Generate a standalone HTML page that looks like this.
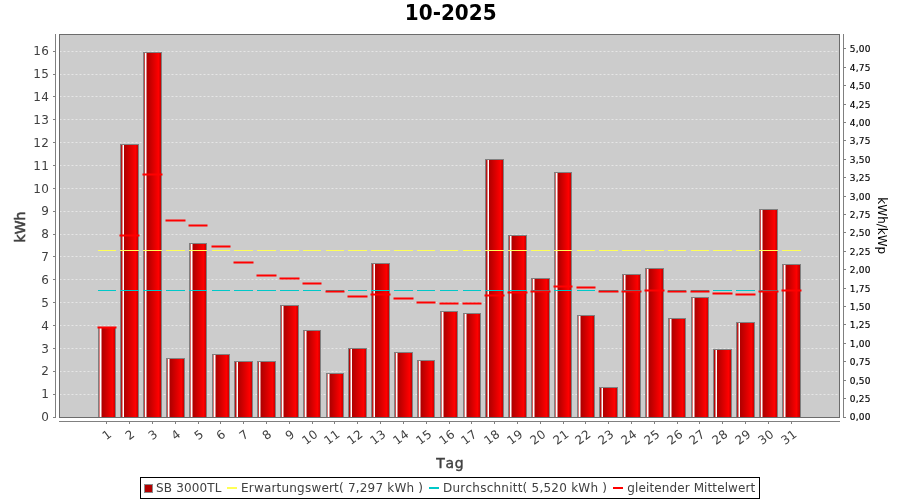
<!DOCTYPE html>
<html lang="de"><head><meta charset="utf-8"><title>10-2025</title>
<style>html,body{margin:0;padding:0;background:#fff;}body{width:900px;height:500px;overflow:hidden;}svg{display:block;}text{font-family:"DejaVu Sans", "Liberation Sans", sans-serif;font-kerning:none;}</style>
</head><body>
<svg width="900" height="500" viewBox="0 0 900 500">
<defs><linearGradient id="g0" gradientUnits="userSpaceOnUse" x1="98.50" x2="116.11" y1="0" y2="0"><stop offset="0" stop-color="#b20000"/><stop offset="0.1136" stop-color="#ffffff"/><stop offset="0.2271" stop-color="#b20000"/><stop offset="0.7949" stop-color="#fe0000"/><stop offset="1" stop-color="#b20000"/></linearGradient><linearGradient id="g1" gradientUnits="userSpaceOnUse" x1="121.31" x2="138.93" y1="0" y2="0"><stop offset="0" stop-color="#b20000"/><stop offset="0.1242" stop-color="#ffffff"/><stop offset="0.1810" stop-color="#b20000"/><stop offset="0.8055" stop-color="#fe0000"/><stop offset="1" stop-color="#b20000"/></linearGradient><linearGradient id="g2" gradientUnits="userSpaceOnUse" x1="144.13" x2="161.74" y1="0" y2="0"><stop offset="0" stop-color="#b20000"/><stop offset="0.0780" stop-color="#ffffff"/><stop offset="0.1916" stop-color="#b20000"/><stop offset="0.8161" stop-color="#fe0000"/><stop offset="1" stop-color="#b20000"/></linearGradient><linearGradient id="g3" gradientUnits="userSpaceOnUse" x1="166.94" x2="184.55" y1="0" y2="0"><stop offset="0" stop-color="#b20000"/><stop offset="0.0886" stop-color="#ffffff"/><stop offset="0.2022" stop-color="#b20000"/><stop offset="0.8267" stop-color="#fe0000"/><stop offset="1" stop-color="#b20000"/></linearGradient><linearGradient id="g4" gradientUnits="userSpaceOnUse" x1="189.75" x2="207.36" y1="0" y2="0"><stop offset="0" stop-color="#b20000"/><stop offset="0.0993" stop-color="#ffffff"/><stop offset="0.2128" stop-color="#b20000"/><stop offset="0.7806" stop-color="#fe0000"/><stop offset="1" stop-color="#b20000"/></linearGradient><linearGradient id="g5" gradientUnits="userSpaceOnUse" x1="212.56" x2="230.18" y1="0" y2="0"><stop offset="0" stop-color="#b20000"/><stop offset="0.1099" stop-color="#ffffff"/><stop offset="0.2234" stop-color="#b20000"/><stop offset="0.7912" stop-color="#fe0000"/><stop offset="1" stop-color="#b20000"/></linearGradient><linearGradient id="g6" gradientUnits="userSpaceOnUse" x1="235.38" x2="252.99" y1="0" y2="0"><stop offset="0" stop-color="#b20000"/><stop offset="0.1205" stop-color="#ffffff"/><stop offset="0.1773" stop-color="#b20000"/><stop offset="0.8018" stop-color="#fe0000"/><stop offset="1" stop-color="#b20000"/></linearGradient><linearGradient id="g7" gradientUnits="userSpaceOnUse" x1="258.19" x2="275.80" y1="0" y2="0"><stop offset="0" stop-color="#b20000"/><stop offset="0.0744" stop-color="#ffffff"/><stop offset="0.1879" stop-color="#b20000"/><stop offset="0.8125" stop-color="#fe0000"/><stop offset="1" stop-color="#b20000"/></linearGradient><linearGradient id="g8" gradientUnits="userSpaceOnUse" x1="281.00" x2="298.62" y1="0" y2="0"><stop offset="0" stop-color="#b20000"/><stop offset="0.0850" stop-color="#ffffff"/><stop offset="0.1985" stop-color="#b20000"/><stop offset="0.8231" stop-color="#fe0000"/><stop offset="1" stop-color="#b20000"/></linearGradient><linearGradient id="g9" gradientUnits="userSpaceOnUse" x1="303.82" x2="321.43" y1="0" y2="0"><stop offset="0" stop-color="#b20000"/><stop offset="0.0956" stop-color="#ffffff"/><stop offset="0.2092" stop-color="#b20000"/><stop offset="0.7769" stop-color="#fe0000"/><stop offset="1" stop-color="#b20000"/></linearGradient><linearGradient id="g10" gradientUnits="userSpaceOnUse" x1="326.63" x2="344.24" y1="0" y2="0"><stop offset="0" stop-color="#b20000"/><stop offset="0.1062" stop-color="#ffffff"/><stop offset="0.2198" stop-color="#b20000"/><stop offset="0.7875" stop-color="#fe0000"/><stop offset="1" stop-color="#b20000"/></linearGradient><linearGradient id="g11" gradientUnits="userSpaceOnUse" x1="349.44" x2="367.05" y1="0" y2="0"><stop offset="0" stop-color="#b20000"/><stop offset="0.1168" stop-color="#ffffff"/><stop offset="0.1736" stop-color="#b20000"/><stop offset="0.7982" stop-color="#fe0000"/><stop offset="1" stop-color="#b20000"/></linearGradient><linearGradient id="g12" gradientUnits="userSpaceOnUse" x1="372.25" x2="389.87" y1="0" y2="0"><stop offset="0" stop-color="#b20000"/><stop offset="0.1275" stop-color="#ffffff"/><stop offset="0.1842" stop-color="#b20000"/><stop offset="0.8088" stop-color="#fe0000"/><stop offset="1" stop-color="#b20000"/></linearGradient><linearGradient id="g13" gradientUnits="userSpaceOnUse" x1="395.07" x2="412.68" y1="0" y2="0"><stop offset="0" stop-color="#b20000"/><stop offset="0.0813" stop-color="#ffffff"/><stop offset="0.1949" stop-color="#b20000"/><stop offset="0.8194" stop-color="#fe0000"/><stop offset="1" stop-color="#b20000"/></linearGradient><linearGradient id="g14" gradientUnits="userSpaceOnUse" x1="417.88" x2="435.49" y1="0" y2="0"><stop offset="0" stop-color="#b20000"/><stop offset="0.0919" stop-color="#ffffff"/><stop offset="0.2055" stop-color="#b20000"/><stop offset="0.7733" stop-color="#fe0000"/><stop offset="1" stop-color="#b20000"/></linearGradient><linearGradient id="g15" gradientUnits="userSpaceOnUse" x1="440.69" x2="458.31" y1="0" y2="0"><stop offset="0" stop-color="#b20000"/><stop offset="0.1026" stop-color="#ffffff"/><stop offset="0.2161" stop-color="#b20000"/><stop offset="0.7839" stop-color="#fe0000"/><stop offset="1" stop-color="#b20000"/></linearGradient><linearGradient id="g16" gradientUnits="userSpaceOnUse" x1="463.51" x2="481.12" y1="0" y2="0"><stop offset="0" stop-color="#b20000"/><stop offset="0.1132" stop-color="#ffffff"/><stop offset="0.2267" stop-color="#b20000"/><stop offset="0.7945" stop-color="#fe0000"/><stop offset="1" stop-color="#b20000"/></linearGradient><linearGradient id="g17" gradientUnits="userSpaceOnUse" x1="486.32" x2="503.93" y1="0" y2="0"><stop offset="0" stop-color="#b20000"/><stop offset="0.1238" stop-color="#ffffff"/><stop offset="0.1806" stop-color="#b20000"/><stop offset="0.8051" stop-color="#fe0000"/><stop offset="1" stop-color="#b20000"/></linearGradient><linearGradient id="g18" gradientUnits="userSpaceOnUse" x1="509.13" x2="526.75" y1="0" y2="0"><stop offset="0" stop-color="#b20000"/><stop offset="0.0777" stop-color="#ffffff"/><stop offset="0.1912" stop-color="#b20000"/><stop offset="0.8158" stop-color="#fe0000"/><stop offset="1" stop-color="#b20000"/></linearGradient><linearGradient id="g19" gradientUnits="userSpaceOnUse" x1="531.95" x2="549.56" y1="0" y2="0"><stop offset="0" stop-color="#b20000"/><stop offset="0.0883" stop-color="#ffffff"/><stop offset="0.2018" stop-color="#b20000"/><stop offset="0.8264" stop-color="#fe0000"/><stop offset="1" stop-color="#b20000"/></linearGradient><linearGradient id="g20" gradientUnits="userSpaceOnUse" x1="554.76" x2="572.37" y1="0" y2="0"><stop offset="0" stop-color="#b20000"/><stop offset="0.0989" stop-color="#ffffff"/><stop offset="0.2125" stop-color="#b20000"/><stop offset="0.7802" stop-color="#fe0000"/><stop offset="1" stop-color="#b20000"/></linearGradient><linearGradient id="g21" gradientUnits="userSpaceOnUse" x1="577.57" x2="595.18" y1="0" y2="0"><stop offset="0" stop-color="#b20000"/><stop offset="0.1095" stop-color="#ffffff"/><stop offset="0.2231" stop-color="#b20000"/><stop offset="0.7908" stop-color="#fe0000"/><stop offset="1" stop-color="#b20000"/></linearGradient><linearGradient id="g22" gradientUnits="userSpaceOnUse" x1="600.38" x2="618.00" y1="0" y2="0"><stop offset="0" stop-color="#b20000"/><stop offset="0.1201" stop-color="#ffffff"/><stop offset="0.1769" stop-color="#b20000"/><stop offset="0.8015" stop-color="#fe0000"/><stop offset="1" stop-color="#b20000"/></linearGradient><linearGradient id="g23" gradientUnits="userSpaceOnUse" x1="623.20" x2="640.81" y1="0" y2="0"><stop offset="0" stop-color="#b20000"/><stop offset="0.0740" stop-color="#ffffff"/><stop offset="0.1875" stop-color="#b20000"/><stop offset="0.8121" stop-color="#fe0000"/><stop offset="1" stop-color="#b20000"/></linearGradient><linearGradient id="g24" gradientUnits="userSpaceOnUse" x1="646.01" x2="663.62" y1="0" y2="0"><stop offset="0" stop-color="#b20000"/><stop offset="0.0846" stop-color="#ffffff"/><stop offset="0.1982" stop-color="#b20000"/><stop offset="0.8227" stop-color="#fe0000"/><stop offset="1" stop-color="#b20000"/></linearGradient><linearGradient id="g25" gradientUnits="userSpaceOnUse" x1="668.82" x2="686.44" y1="0" y2="0"><stop offset="0" stop-color="#b20000"/><stop offset="0.0952" stop-color="#ffffff"/><stop offset="0.2088" stop-color="#b20000"/><stop offset="0.7766" stop-color="#fe0000"/><stop offset="1" stop-color="#b20000"/></linearGradient><linearGradient id="g26" gradientUnits="userSpaceOnUse" x1="691.64" x2="709.25" y1="0" y2="0"><stop offset="0" stop-color="#b20000"/><stop offset="0.1059" stop-color="#ffffff"/><stop offset="0.2194" stop-color="#b20000"/><stop offset="0.7872" stop-color="#fe0000"/><stop offset="1" stop-color="#b20000"/></linearGradient><linearGradient id="g27" gradientUnits="userSpaceOnUse" x1="714.45" x2="732.06" y1="0" y2="0"><stop offset="0" stop-color="#b20000"/><stop offset="0.1165" stop-color="#ffffff"/><stop offset="0.1733" stop-color="#b20000"/><stop offset="0.7978" stop-color="#fe0000"/><stop offset="1" stop-color="#b20000"/></linearGradient><linearGradient id="g28" gradientUnits="userSpaceOnUse" x1="737.26" x2="754.87" y1="0" y2="0"><stop offset="0" stop-color="#b20000"/><stop offset="0.1271" stop-color="#ffffff"/><stop offset="0.1839" stop-color="#b20000"/><stop offset="0.8084" stop-color="#fe0000"/><stop offset="1" stop-color="#b20000"/></linearGradient><linearGradient id="g29" gradientUnits="userSpaceOnUse" x1="760.07" x2="777.69" y1="0" y2="0"><stop offset="0" stop-color="#b20000"/><stop offset="0.0810" stop-color="#ffffff"/><stop offset="0.1945" stop-color="#b20000"/><stop offset="0.8190" stop-color="#fe0000"/><stop offset="1" stop-color="#b20000"/></linearGradient><linearGradient id="g30" gradientUnits="userSpaceOnUse" x1="782.89" x2="800.50" y1="0" y2="0"><stop offset="0" stop-color="#b20000"/><stop offset="0.0916" stop-color="#ffffff"/><stop offset="0.2051" stop-color="#b20000"/><stop offset="0.7729" stop-color="#fe0000"/><stop offset="1" stop-color="#b20000"/></linearGradient></defs>
<rect x="0" y="0" width="900" height="500" fill="#ffffff"/>
<text transform="translate(450.7 20) scale(1 1.04)" x="0" y="0" font-size="20" font-weight="bold" text-anchor="middle" fill="#000000">10-2025</text>
<rect x="59" y="34" width="781" height="384" fill="#cccccc"/>
<g stroke="#ffffff" stroke-opacity="0.5" stroke-width="1" stroke-dasharray="2 2">
<line x1="59.5" x2="839.5" y1="51.5" y2="51.5"/>
<line x1="59.5" x2="839.5" y1="74.5" y2="74.5"/>
<line x1="59.5" x2="839.5" y1="96.5" y2="96.5"/>
<line x1="59.5" x2="839.5" y1="119.5" y2="119.5"/>
<line x1="59.5" x2="839.5" y1="142.5" y2="142.5"/>
<line x1="59.5" x2="839.5" y1="165.5" y2="165.5"/>
<line x1="59.5" x2="839.5" y1="188.5" y2="188.5"/>
<line x1="59.5" x2="839.5" y1="211.5" y2="211.5"/>
<line x1="59.5" x2="839.5" y1="234.5" y2="234.5"/>
<line x1="59.5" x2="839.5" y1="256.5" y2="256.5"/>
<line x1="59.5" x2="839.5" y1="279.5" y2="279.5"/>
<line x1="59.5" x2="839.5" y1="302.5" y2="302.5"/>
<line x1="59.5" x2="839.5" y1="325.5" y2="325.5"/>
<line x1="59.5" x2="839.5" y1="348.5" y2="348.5"/>
<line x1="59.5" x2="839.5" y1="371.5" y2="371.5"/>
<line x1="59.5" x2="839.5" y1="394.5" y2="394.5"/>
</g>
<g stroke="#808080" stroke-width="1">
<rect x="98.5" y="327.5" width="17" height="90" fill="url(#g0)"/>
<rect x="120.5" y="144.5" width="18" height="273" fill="url(#g1)"/>
<rect x="143.5" y="52.5" width="18" height="365" fill="url(#g2)"/>
<rect x="166.5" y="358.5" width="18" height="59" fill="url(#g3)"/>
<rect x="189.5" y="243.5" width="17" height="174" fill="url(#g4)"/>
<rect x="212.5" y="354.5" width="17" height="63" fill="url(#g5)"/>
<rect x="234.5" y="361.5" width="18" height="56" fill="url(#g6)"/>
<rect x="257.5" y="361.5" width="18" height="56" fill="url(#g7)"/>
<rect x="280.5" y="305.5" width="18" height="112" fill="url(#g8)"/>
<rect x="303.5" y="330.5" width="17" height="87" fill="url(#g9)"/>
<rect x="326.5" y="373.5" width="17" height="44" fill="url(#g10)"/>
<rect x="348.5" y="348.5" width="18" height="69" fill="url(#g11)"/>
<rect x="371.5" y="263.5" width="18" height="154" fill="url(#g12)"/>
<rect x="394.5" y="352.5" width="18" height="65" fill="url(#g13)"/>
<rect x="417.5" y="360.5" width="17" height="57" fill="url(#g14)"/>
<rect x="440.5" y="311.5" width="17" height="106" fill="url(#g15)"/>
<rect x="463.5" y="313.5" width="17" height="104" fill="url(#g16)"/>
<rect x="485.5" y="159.5" width="18" height="258" fill="url(#g17)"/>
<rect x="508.5" y="235.5" width="18" height="182" fill="url(#g18)"/>
<rect x="531.5" y="278.5" width="18" height="139" fill="url(#g19)"/>
<rect x="554.5" y="172.5" width="17" height="245" fill="url(#g20)"/>
<rect x="577.5" y="315.5" width="17" height="102" fill="url(#g21)"/>
<rect x="599.5" y="387.5" width="18" height="30" fill="url(#g22)"/>
<rect x="622.5" y="274.5" width="18" height="143" fill="url(#g23)"/>
<rect x="645.5" y="268.5" width="18" height="149" fill="url(#g24)"/>
<rect x="668.5" y="318.5" width="17" height="99" fill="url(#g25)"/>
<rect x="691.5" y="297.5" width="17" height="120" fill="url(#g26)"/>
<rect x="713.5" y="349.5" width="18" height="68" fill="url(#g27)"/>
<rect x="736.5" y="322.5" width="18" height="95" fill="url(#g28)"/>
<rect x="759.5" y="209.5" width="18" height="208" fill="url(#g29)"/>
<rect x="782.5" y="264.5" width="18" height="153" fill="url(#g30)"/>
</g>
<g stroke="#ffff55" stroke-width="1">
<line x1="98" x2="116" y1="250.5" y2="250.5"/>
<line x1="120" x2="139" y1="250.5" y2="250.5"/>
<line x1="143" x2="162" y1="250.5" y2="250.5"/>
<line x1="166" x2="185" y1="250.5" y2="250.5"/>
<line x1="189" x2="207" y1="250.5" y2="250.5"/>
<line x1="212" x2="230" y1="250.5" y2="250.5"/>
<line x1="234" x2="253" y1="250.5" y2="250.5"/>
<line x1="257" x2="276" y1="250.5" y2="250.5"/>
<line x1="280" x2="299" y1="250.5" y2="250.5"/>
<line x1="303" x2="321" y1="250.5" y2="250.5"/>
<line x1="326" x2="344" y1="250.5" y2="250.5"/>
<line x1="348" x2="367" y1="250.5" y2="250.5"/>
<line x1="371" x2="390" y1="250.5" y2="250.5"/>
<line x1="394" x2="413" y1="250.5" y2="250.5"/>
<line x1="417" x2="435" y1="250.5" y2="250.5"/>
<line x1="440" x2="458" y1="250.5" y2="250.5"/>
<line x1="463" x2="481" y1="250.5" y2="250.5"/>
<line x1="485" x2="504" y1="250.5" y2="250.5"/>
<line x1="508" x2="527" y1="250.5" y2="250.5"/>
<line x1="531" x2="550" y1="250.5" y2="250.5"/>
<line x1="554" x2="572" y1="250.5" y2="250.5"/>
<line x1="577" x2="595" y1="250.5" y2="250.5"/>
<line x1="599" x2="618" y1="250.5" y2="250.5"/>
<line x1="622" x2="641" y1="250.5" y2="250.5"/>
<line x1="645" x2="664" y1="250.5" y2="250.5"/>
<line x1="668" x2="686" y1="250.5" y2="250.5"/>
<line x1="691" x2="709" y1="250.5" y2="250.5"/>
<line x1="713" x2="732" y1="250.5" y2="250.5"/>
<line x1="736" x2="755" y1="250.5" y2="250.5"/>
<line x1="759" x2="778" y1="250.5" y2="250.5"/>
<line x1="782" x2="801" y1="250.5" y2="250.5"/>
</g>
<g stroke="#00c8c8" stroke-width="1">
<line x1="98" x2="116" y1="290.5" y2="290.5"/>
<line x1="120" x2="139" y1="290.5" y2="290.5"/>
<line x1="143" x2="162" y1="290.5" y2="290.5"/>
<line x1="166" x2="185" y1="290.5" y2="290.5"/>
<line x1="189" x2="207" y1="290.5" y2="290.5"/>
<line x1="212" x2="230" y1="290.5" y2="290.5"/>
<line x1="234" x2="253" y1="290.5" y2="290.5"/>
<line x1="257" x2="276" y1="290.5" y2="290.5"/>
<line x1="280" x2="299" y1="290.5" y2="290.5"/>
<line x1="303" x2="321" y1="290.5" y2="290.5"/>
<line x1="326" x2="344" y1="290.5" y2="290.5"/>
<line x1="348" x2="367" y1="290.5" y2="290.5"/>
<line x1="371" x2="390" y1="290.5" y2="290.5"/>
<line x1="394" x2="413" y1="290.5" y2="290.5"/>
<line x1="417" x2="435" y1="290.5" y2="290.5"/>
<line x1="440" x2="458" y1="290.5" y2="290.5"/>
<line x1="463" x2="481" y1="290.5" y2="290.5"/>
<line x1="485" x2="504" y1="290.5" y2="290.5"/>
<line x1="508" x2="527" y1="290.5" y2="290.5"/>
<line x1="531" x2="550" y1="290.5" y2="290.5"/>
<line x1="554" x2="572" y1="290.5" y2="290.5"/>
<line x1="577" x2="595" y1="290.5" y2="290.5"/>
<line x1="599" x2="618" y1="290.5" y2="290.5"/>
<line x1="622" x2="641" y1="290.5" y2="290.5"/>
<line x1="645" x2="664" y1="290.5" y2="290.5"/>
<line x1="668" x2="686" y1="290.5" y2="290.5"/>
<line x1="691" x2="709" y1="290.5" y2="290.5"/>
<line x1="713" x2="732" y1="290.5" y2="290.5"/>
<line x1="736" x2="755" y1="290.5" y2="290.5"/>
<line x1="759" x2="778" y1="290.5" y2="290.5"/>
<line x1="782" x2="801" y1="290.5" y2="290.5"/>
</g>
<g stroke="#ff0000" stroke-width="2">
<line x1="97.5" x2="116.5" y1="327.5" y2="327.5"/>
<line x1="119.5" x2="139.5" y1="235.5" y2="235.5"/>
<line x1="142.5" x2="162.5" y1="174.5" y2="174.5"/>
<line x1="165.5" x2="185.5" y1="220.5" y2="220.5"/>
<line x1="188.5" x2="207.5" y1="225.5" y2="225.5"/>
<line x1="211.5" x2="230.5" y1="246.5" y2="246.5"/>
<line x1="233.5" x2="253.5" y1="262.5" y2="262.5"/>
<line x1="256.5" x2="276.5" y1="275.5" y2="275.5"/>
<line x1="279.5" x2="299.5" y1="278.5" y2="278.5"/>
<line x1="302.5" x2="321.5" y1="283.5" y2="283.5"/>
<line x1="325.5" x2="344.5" y1="291.5" y2="291.5"/>
<line x1="347.5" x2="367.5" y1="296.5" y2="296.5"/>
<line x1="370.5" x2="390.5" y1="294.5" y2="294.5"/>
<line x1="393.5" x2="413.5" y1="298.5" y2="298.5"/>
<line x1="416.5" x2="435.5" y1="302.5" y2="302.5"/>
<line x1="439.5" x2="458.5" y1="303.5" y2="303.5"/>
<line x1="462.5" x2="481.5" y1="303.5" y2="303.5"/>
<line x1="484.5" x2="504.5" y1="295.5" y2="295.5"/>
<line x1="507.5" x2="527.5" y1="292.5" y2="292.5"/>
<line x1="530.5" x2="550.5" y1="291.5" y2="291.5"/>
<line x1="553.5" x2="572.5" y1="286.5" y2="286.5"/>
<line x1="576.5" x2="595.5" y1="287.5" y2="287.5"/>
<line x1="598.5" x2="618.5" y1="291.5" y2="291.5"/>
<line x1="621.5" x2="641.5" y1="291.5" y2="291.5"/>
<line x1="644.5" x2="664.5" y1="290.5" y2="290.5"/>
<line x1="667.5" x2="686.5" y1="291.5" y2="291.5"/>
<line x1="690.5" x2="709.5" y1="291.5" y2="291.5"/>
<line x1="712.5" x2="732.5" y1="293.5" y2="293.5"/>
<line x1="735.5" x2="755.5" y1="294.5" y2="294.5"/>
<line x1="758.5" x2="778.5" y1="291.5" y2="291.5"/>
<line x1="781.5" x2="801.5" y1="290.5" y2="290.5"/>
</g>
<rect x="59.5" y="34.5" width="780" height="383" fill="none" stroke="#6c6c6c" stroke-width="1"/>
<g stroke="#808080" stroke-width="1" font-size="12" text-anchor="end" letter-spacing="0.37">
<line x1="55.5" x2="55.5" y1="34" y2="418"/>
<line x1="53" x2="56" y1="417.5" y2="417.5"/>
<text x="49.37" y="421" stroke="none" fill="#404040">0</text>
<line x1="53" x2="56" y1="394.5" y2="394.5"/>
<text x="49.37" y="398" stroke="none" fill="#404040">1</text>
<line x1="53" x2="56" y1="371.5" y2="371.5"/>
<text x="49.37" y="375" stroke="none" fill="#404040">2</text>
<line x1="53" x2="56" y1="348.5" y2="348.5"/>
<text x="49.37" y="353" stroke="none" fill="#404040">3</text>
<line x1="53" x2="56" y1="325.5" y2="325.5"/>
<text x="49.37" y="330" stroke="none" fill="#404040">4</text>
<line x1="53" x2="56" y1="302.5" y2="302.5"/>
<text x="49.37" y="307" stroke="none" fill="#404040">5</text>
<line x1="53" x2="56" y1="279.5" y2="279.5"/>
<text x="49.37" y="284" stroke="none" fill="#404040">6</text>
<line x1="53" x2="56" y1="256.5" y2="256.5"/>
<text x="49.37" y="261" stroke="none" fill="#404040">7</text>
<line x1="53" x2="56" y1="234.5" y2="234.5"/>
<text x="49.37" y="238" stroke="none" fill="#404040">8</text>
<line x1="53" x2="56" y1="211.5" y2="211.5"/>
<text x="49.37" y="215" stroke="none" fill="#404040">9</text>
<line x1="53" x2="56" y1="188.5" y2="188.5"/>
<text x="49.37" y="193" stroke="none" fill="#404040">10</text>
<line x1="53" x2="56" y1="165.5" y2="165.5"/>
<text x="49.37" y="170" stroke="none" fill="#404040">11</text>
<line x1="53" x2="56" y1="142.5" y2="142.5"/>
<text x="49.37" y="147" stroke="none" fill="#404040">12</text>
<line x1="53" x2="56" y1="119.5" y2="119.5"/>
<text x="49.37" y="124" stroke="none" fill="#404040">13</text>
<line x1="53" x2="56" y1="96.5" y2="96.5"/>
<text x="49.37" y="101" stroke="none" fill="#404040">14</text>
<line x1="53" x2="56" y1="74.5" y2="74.5"/>
<text x="49.37" y="78" stroke="none" fill="#404040">15</text>
<line x1="53" x2="56" y1="51.5" y2="51.5"/>
<text x="49.37" y="55" stroke="none" fill="#404040">16</text>
</g>
<g stroke="#808080" stroke-width="1" font-size="9" letter-spacing="0.27">
<line x1="843.5" x2="843.5" y1="34" y2="418"/>
<line x1="843" x2="846" y1="417.5" y2="417.5"/>
<text x="849.7" y="420" stroke="#000000" stroke-width="0.15" fill="#000000">0,00</text>
<line x1="843" x2="846" y1="398.5" y2="398.5"/>
<text x="849.7" y="402" stroke="#000000" stroke-width="0.15" fill="#000000">0,25</text>
<line x1="843" x2="846" y1="380.5" y2="380.5"/>
<text x="849.7" y="384" stroke="#000000" stroke-width="0.15" fill="#000000">0,50</text>
<line x1="843" x2="846" y1="361.5" y2="361.5"/>
<text x="849.7" y="365" stroke="#000000" stroke-width="0.15" fill="#000000">0,75</text>
<line x1="843" x2="846" y1="343.5" y2="343.5"/>
<text x="849.7" y="347" stroke="#000000" stroke-width="0.15" fill="#000000">1,00</text>
<line x1="843" x2="846" y1="324.5" y2="324.5"/>
<text x="849.7" y="328" stroke="#000000" stroke-width="0.15" fill="#000000">1,25</text>
<line x1="843" x2="846" y1="306.5" y2="306.5"/>
<text x="849.7" y="310" stroke="#000000" stroke-width="0.15" fill="#000000">1,50</text>
<line x1="843" x2="846" y1="288.5" y2="288.5"/>
<text x="849.7" y="292" stroke="#000000" stroke-width="0.15" fill="#000000">1,75</text>
<line x1="843" x2="846" y1="269.5" y2="269.5"/>
<text x="849.7" y="273" stroke="#000000" stroke-width="0.15" fill="#000000">2,00</text>
<line x1="843" x2="846" y1="251.5" y2="251.5"/>
<text x="849.7" y="255" stroke="#000000" stroke-width="0.15" fill="#000000">2,25</text>
<line x1="843" x2="846" y1="232.5" y2="232.5"/>
<text x="849.7" y="236" stroke="#000000" stroke-width="0.15" fill="#000000">2,50</text>
<line x1="843" x2="846" y1="214.5" y2="214.5"/>
<text x="849.7" y="218" stroke="#000000" stroke-width="0.15" fill="#000000">2,75</text>
<line x1="843" x2="846" y1="196.5" y2="196.5"/>
<text x="849.7" y="200" stroke="#000000" stroke-width="0.15" fill="#000000">3,00</text>
<line x1="843" x2="846" y1="177.5" y2="177.5"/>
<text x="849.7" y="181" stroke="#000000" stroke-width="0.15" fill="#000000">3,25</text>
<line x1="843" x2="846" y1="159.5" y2="159.5"/>
<text x="849.7" y="163" stroke="#000000" stroke-width="0.15" fill="#000000">3,50</text>
<line x1="843" x2="846" y1="140.5" y2="140.5"/>
<text x="849.7" y="144" stroke="#000000" stroke-width="0.15" fill="#000000">3,75</text>
<line x1="843" x2="846" y1="122.5" y2="122.5"/>
<text x="849.7" y="126" stroke="#000000" stroke-width="0.15" fill="#000000">4,00</text>
<line x1="843" x2="846" y1="104.5" y2="104.5"/>
<text x="849.7" y="108" stroke="#000000" stroke-width="0.15" fill="#000000">4,25</text>
<line x1="843" x2="846" y1="85.5" y2="85.5"/>
<text x="849.7" y="89" stroke="#000000" stroke-width="0.15" fill="#000000">4,50</text>
<line x1="843" x2="846" y1="67.5" y2="67.5"/>
<text x="849.7" y="71" stroke="#000000" stroke-width="0.15" fill="#000000">4,75</text>
<line x1="843" x2="846" y1="48.5" y2="48.5"/>
<text x="849.7" y="52" stroke="#000000" stroke-width="0.15" fill="#000000">5,00</text>
</g>
<g stroke="#808080" stroke-width="1" font-size="12" text-anchor="end" letter-spacing="0.37">
<line x1="59" x2="840" y1="421.5" y2="421.5"/>
<line x1="106.5" x2="106.5" y1="421" y2="424"/>
<text transform="translate(105.8 427.0) rotate(-37)" x="0.37" y="11.1" stroke="none" fill="#404040">1</text>
<line x1="129.5" x2="129.5" y1="421" y2="424"/>
<text transform="translate(128.8 427.0) rotate(-37)" x="0.37" y="11.1" stroke="none" fill="#404040">2</text>
<line x1="152.5" x2="152.5" y1="421" y2="424"/>
<text transform="translate(151.8 427.0) rotate(-37)" x="0.37" y="11.1" stroke="none" fill="#404040">3</text>
<line x1="175.5" x2="175.5" y1="421" y2="424"/>
<text transform="translate(174.8 427.0) rotate(-37)" x="0.37" y="11.1" stroke="none" fill="#404040">4</text>
<line x1="198.5" x2="198.5" y1="421" y2="424"/>
<text transform="translate(197.8 427.0) rotate(-37)" x="0.37" y="11.1" stroke="none" fill="#404040">5</text>
<line x1="220.5" x2="220.5" y1="421" y2="424"/>
<text transform="translate(219.8 427.0) rotate(-37)" x="0.37" y="11.1" stroke="none" fill="#404040">6</text>
<line x1="243.5" x2="243.5" y1="421" y2="424"/>
<text transform="translate(242.8 427.0) rotate(-37)" x="0.37" y="11.1" stroke="none" fill="#404040">7</text>
<line x1="266.5" x2="266.5" y1="421" y2="424"/>
<text transform="translate(265.8 427.0) rotate(-37)" x="0.37" y="11.1" stroke="none" fill="#404040">8</text>
<line x1="289.5" x2="289.5" y1="421" y2="424"/>
<text transform="translate(288.8 427.0) rotate(-37)" x="0.37" y="11.1" stroke="none" fill="#404040">9</text>
<line x1="312.5" x2="312.5" y1="421" y2="424"/>
<text transform="translate(311.8 427.0) rotate(-37)" x="0.37" y="11.1" stroke="none" fill="#404040">10</text>
<line x1="334.5" x2="334.5" y1="421" y2="424"/>
<text transform="translate(333.8 427.0) rotate(-37)" x="0.37" y="11.1" stroke="none" fill="#404040">11</text>
<line x1="357.5" x2="357.5" y1="421" y2="424"/>
<text transform="translate(356.8 427.0) rotate(-37)" x="0.37" y="11.1" stroke="none" fill="#404040">12</text>
<line x1="380.5" x2="380.5" y1="421" y2="424"/>
<text transform="translate(379.8 427.0) rotate(-37)" x="0.37" y="11.1" stroke="none" fill="#404040">13</text>
<line x1="403.5" x2="403.5" y1="421" y2="424"/>
<text transform="translate(402.8 427.0) rotate(-37)" x="0.37" y="11.1" stroke="none" fill="#404040">14</text>
<line x1="426.5" x2="426.5" y1="421" y2="424"/>
<text transform="translate(425.8 427.0) rotate(-37)" x="0.37" y="11.1" stroke="none" fill="#404040">15</text>
<line x1="449.5" x2="449.5" y1="421" y2="424"/>
<text transform="translate(448.8 427.0) rotate(-37)" x="0.37" y="11.1" stroke="none" fill="#404040">16</text>
<line x1="471.5" x2="471.5" y1="421" y2="424"/>
<text transform="translate(470.8 427.0) rotate(-37)" x="0.37" y="11.1" stroke="none" fill="#404040">17</text>
<line x1="494.5" x2="494.5" y1="421" y2="424"/>
<text transform="translate(493.8 427.0) rotate(-37)" x="0.37" y="11.1" stroke="none" fill="#404040">18</text>
<line x1="517.5" x2="517.5" y1="421" y2="424"/>
<text transform="translate(516.8 427.0) rotate(-37)" x="0.37" y="11.1" stroke="none" fill="#404040">19</text>
<line x1="540.5" x2="540.5" y1="421" y2="424"/>
<text transform="translate(539.8 427.0) rotate(-37)" x="0.37" y="11.1" stroke="none" fill="#404040">20</text>
<line x1="563.5" x2="563.5" y1="421" y2="424"/>
<text transform="translate(562.8 427.0) rotate(-37)" x="0.37" y="11.1" stroke="none" fill="#404040">21</text>
<line x1="585.5" x2="585.5" y1="421" y2="424"/>
<text transform="translate(584.8 427.0) rotate(-37)" x="0.37" y="11.1" stroke="none" fill="#404040">22</text>
<line x1="608.5" x2="608.5" y1="421" y2="424"/>
<text transform="translate(607.8 427.0) rotate(-37)" x="0.37" y="11.1" stroke="none" fill="#404040">23</text>
<line x1="631.5" x2="631.5" y1="421" y2="424"/>
<text transform="translate(630.8 427.0) rotate(-37)" x="0.37" y="11.1" stroke="none" fill="#404040">24</text>
<line x1="654.5" x2="654.5" y1="421" y2="424"/>
<text transform="translate(653.8 427.0) rotate(-37)" x="0.37" y="11.1" stroke="none" fill="#404040">25</text>
<line x1="677.5" x2="677.5" y1="421" y2="424"/>
<text transform="translate(676.8 427.0) rotate(-37)" x="0.37" y="11.1" stroke="none" fill="#404040">26</text>
<line x1="699.5" x2="699.5" y1="421" y2="424"/>
<text transform="translate(698.8 427.0) rotate(-37)" x="0.37" y="11.1" stroke="none" fill="#404040">27</text>
<line x1="722.5" x2="722.5" y1="421" y2="424"/>
<text transform="translate(721.8 427.0) rotate(-37)" x="0.37" y="11.1" stroke="none" fill="#404040">28</text>
<line x1="745.5" x2="745.5" y1="421" y2="424"/>
<text transform="translate(744.8 427.0) rotate(-37)" x="0.37" y="11.1" stroke="none" fill="#404040">29</text>
<line x1="768.5" x2="768.5" y1="421" y2="424"/>
<text transform="translate(767.8 427.0) rotate(-37)" x="0.37" y="11.1" stroke="none" fill="#404040">30</text>
<line x1="791.5" x2="791.5" y1="421" y2="424"/>
<text transform="translate(790.8 427.0) rotate(-37)" x="0.37" y="11.1" stroke="none" fill="#404040">31</text>
</g>
<text transform="translate(25 227) rotate(-90)" x="0" y="0" font-size="14" text-anchor="middle" fill="#404040" stroke="#404040" stroke-width="0.55">kWh</text>
<text transform="translate(878 225.8) rotate(90)" x="0" y="0" font-size="12" text-anchor="middle" fill="#000000">kWh/kWp</text>
<text x="436.2" y="468" font-size="14" fill="#404040" stroke="#404040" stroke-width="0.4" letter-spacing="0.75">Tag</text>
<rect x="140.5" y="477.5" width="619" height="21" fill="#ffffff" stroke="#000000" stroke-width="1"/>
<rect x="144.5" y="484.5" width="8" height="8" fill="#b20000" stroke="#8c8c8c" stroke-width="1"/>
<g font-size="12" fill="#404040">
<text x="156" y="492" textLength="65.5">SB 3000TL</text>
<line x1="227" x2="237" y1="488" y2="488" stroke="#ffff55" stroke-width="2"/>
<text x="241" y="492" textLength="182">Erwartungswert( 7,297 kWh )</text>
<line x1="429" x2="439" y1="488" y2="488" stroke="#00c8c8" stroke-width="2"/>
<text x="443" y="492" textLength="164">Durchschnitt( 5,520 kWh )</text>
<line x1="613" x2="623" y1="488" y2="488" stroke="#ff0000" stroke-width="2"/>
<text x="627.3" y="492" textLength="128">gleitender Mittelwert</text>
</g>
</svg></body></html>
